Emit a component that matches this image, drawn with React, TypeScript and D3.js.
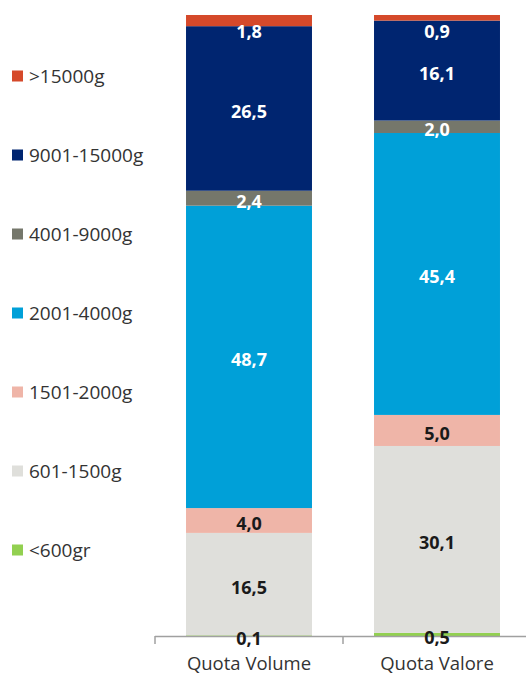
import React from "react";
import * as d3 from "d3";

const categories = ["Quota Volume", "Quota Valore"];
const seriesNames = ["<600gr", "601-1500g", "1501-2000g", "2001-4000g", "4001-9000g", "9001-15000g", ">15000g"];
const seriesColors = ["#92D050", "#DFDFDB", "#EFB5A8", "#00A0D8", "#75776B", "#002570", "#D5492A"];
const labelColors = ["#1a1a1a", "#1a1a1a", "#1a1a1a", "#ffffff", "#ffffff", "#ffffff", "#ffffff"];
const volumeValues = [0.1, 16.5, 4.0, 48.7, 2.4, 26.5, 1.8];
const valoreValues = [0.5, 30.1, 5.0, 45.4, 2.0, 16.1, 0.9];
const legendOrder = [">15000g", "9001-15000g", "4001-9000g", "2001-4000g", "1501-2000g", "601-1500g", "<600gr"];

const W = 526;
const H = 677;
const FONT = "'Open Sans', 'Liberation Sans', sans-serif";

export default function App() {
  const values = [volumeValues, valoreValues];
  const x = d3.scaleBand<string>().domain(categories).range([155, 531]).padding(0);
  const y = d3.scaleLinear().domain([0, 100]).range([636, 15]);
  const barW = x.bandwidth() * 0.67;
  const legendY = d3.scalePoint<string>().domain(legendOrder).range([76, 550]);

  const fmt = (v: number) => v.toFixed(1).replace(".", ",");

  return (
    <svg width={W} height={H} style={{ position: "absolute", left: 0, top: 0, background: "#fff" }} fontFamily={FONT}>
      {categories.map((c, ci) => {
        const stack = d3.cumsum(values[ci]);
        const cx = (x(c) as number) + x.bandwidth() / 2;
        return (
          <g key={c}>
            {values[ci].map((v, si) => {
              const y0 = y(stack[si] - v);
              const y1 = y(stack[si]);
              return (
                <rect key={si} x={cx - barW / 2} y={y1} width={barW} height={Math.max(0, y0 - y1)} fill={seriesColors[si]} />
              );
            })}
          </g>
        );
      })}
      {/* axis */}
      <line x1={155} x2={W} y1={636.5} y2={636.5} stroke="#a0a0a0" strokeWidth={1.5} />
      {[155, 343, 531].map((t, i) => (
        <line key={i} x1={t} x2={t} y1={636} y2={644} stroke="#a0a0a0" strokeWidth={1.5} />
      ))}
      {categories.map((c) => (
        <text key={c} x={(x(c) as number) + x.bandwidth() / 2} y={670} textAnchor="middle" fontSize={18.5} fill="#333">
          {c}
        </text>
      ))}
      {/* labels */}
      {categories.map((c, ci) => {
        const stack = d3.cumsum(values[ci]);
        const cx = (x(c) as number) + x.bandwidth() / 2;
        return (
          <g key={c}>
            {values[ci].map((v, si) => {
              let cy = (y(stack[si] - v) + y(stack[si])) / 2 + 3;
              cy = Math.max(cy, 32);
              return (
                <text key={si} x={cx} y={cy} dy="0.36em" textAnchor="middle" fontSize={18} fontWeight="bold" fill={labelColors[si]}>
                  {fmt(v)}
                </text>
              );
            })}
          </g>
        );
      })}
      {/* legend */}
      {legendOrder.map((name) => {
        const si = seriesNames.indexOf(name);
        const ly = legendY(name) as number;
        return (
          <g key={name}>
            <rect x={12} y={ly - 5.5} width={11} height={11} fill={seriesColors[si]} />
            <text x={29} y={ly} dy="0.36em" fontSize={19} fill="#333">
              {name}
            </text>
          </g>
        );
      })}
    </svg>
  );
}
